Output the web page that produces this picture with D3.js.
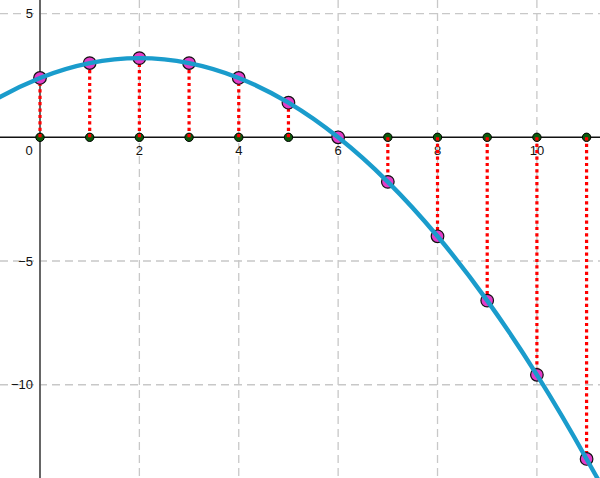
<!DOCTYPE html>
<html>
<head>
<meta charset="utf-8">
<script src="https://cdn.jsdelivr.net/npm/d3@7"></script>
<style>
  html, body { margin: 0; padding: 0; background: #fff; }
  svg { display: block; font-family: "Liberation Sans", Arial, sans-serif; }
</style>
</head>
<body>
<div id="chart"></div>
<script>
// sample points (x, y)
var pointX = [0, 1, 2, 3, 4, 5, 6, 7, 8, 9, 10, 11];
var pointY = [2.4, 3.0, 3.2, 3.0, 2.4, 1.4, 0, -1.8, -4.0, -6.6, -9.6, -13.0];

// extra curve points beyond the sampled ones (left edge / off bottom)
var curveLeft = [[-2, 0], [-1, 1.4]];
var curveRight = [[12, -16.8], [13, -21.8]];

var xTicks = [0, 2, 4, 6, 8, 10];
var yTicks = [5, -5, -10];
var xGrid = [2, 4, 6, 8, 10];

var config = {
    width: 600,
    height: 478,
    xDomain: [-0.805, 11.27],
    yDomain: [-13.77, 5.55],
    colors: {
        curve: "#1a9ccc",
        point: "#e23cc8",
        foot: "#0b5a0b",
        drop: "#ff0000",
        grid: "#c8c8c8"
    }
};

var x = d3.scaleLinear().domain(config.xDomain).range([0, config.width]);
var y = d3.scaleLinear().domain(config.yDomain).range([config.height, 0]);

var svg = d3.select("#chart").append("svg")
    .attr("width", config.width)
    .attr("height", config.height);

// dashed grid
svg.append("g").selectAll("line").data(xGrid).join("line")
    .attr("x1", d => x(d)).attr("x2", d => x(d))
    .attr("y1", 0).attr("y2", config.height)
    .attr("stroke", config.colors.grid)
    .attr("stroke-width", 1.3)
    .attr("stroke-dasharray", "8,5");

svg.append("g").selectAll("line").data(yTicks).join("line")
    .attr("x1", 0).attr("x2", config.width)
    .attr("y1", d => y(d)).attr("y2", d => y(d))
    .attr("stroke", config.colors.grid)
    .attr("stroke-width", 1.3)
    .attr("stroke-dasharray", "8,5");

// axes
svg.append("line")
    .attr("x1", x(0)).attr("x2", x(0))
    .attr("y1", 0).attr("y2", config.height)
    .attr("stroke", "#555").attr("stroke-width", 1.8);

svg.append("line")
    .attr("x1", 0).attr("x2", config.width)
    .attr("y1", y(0)).attr("y2", y(0))
    .attr("stroke", "#111").attr("stroke-width", 1.5);

// tick labels
svg.append("g").selectAll("text").data(xTicks).join("text")
    .attr("x", d => d === 0 ? x(0) - 11 : x(d))
    .attr("y", y(0) + 18)
    .attr("text-anchor", "middle")
    .attr("font-size", 13)
    .attr("fill", "#111")
    .text(d => d);

svg.append("g").selectAll("text").data(yTicks).join("text")
    .attr("x", x(0) - 7)
    .attr("y", d => y(d))
    .attr("dy", "0.35em")
    .attr("text-anchor", "end")
    .attr("font-size", 13)
    .attr("fill", "#111")
    .text(d => d < 0 ? "\u2212" + Math.abs(d) : d);

var pts = pointX.map((d, i) => ({ x: d, y: pointY[i] }));

// green feet on the x axis
svg.append("g").selectAll("circle").data(pts).join("circle")
    .attr("cx", d => x(d.x))
    .attr("cy", y(0))
    .attr("r", 4.2)
    .attr("fill", config.colors.foot)
    .attr("stroke", "#000")
    .attr("stroke-width", 1);

// red dotted drop lines
svg.append("g").selectAll("line").data(pts.filter(d => d.y !== 0)).join("line")
    .attr("x1", d => x(d.x)).attr("x2", d => x(d.x))
    .attr("y1", y(0)).attr("y2", d => y(d.y))
    .attr("stroke", config.colors.drop)
    .attr("stroke-width", 3.2)
    .attr("stroke-dasharray", "3.2,3.2");

// magenta points
svg.append("g").selectAll("circle").data(pts).join("circle")
    .attr("cx", d => x(d.x))
    .attr("cy", d => y(d.y))
    .attr("r", 6.3)
    .attr("fill", config.colors.point)
    .attr("stroke", "#111")
    .attr("stroke-width", 1.2);

// curve
var curveData = curveLeft.concat(pts.map(d => [d.x, d.y]), curveRight);
svg.append("path")
    .datum(curveData)
    .attr("fill", "none")
    .attr("stroke", config.colors.curve)
    .attr("stroke-width", 4.4)
    .attr("d", d3.line()
        .x(d => x(d[0]))
        .y(d => y(d[1]))
        .curve(d3.curveCardinal.tension(0)));
</script>
</body>
</html>
